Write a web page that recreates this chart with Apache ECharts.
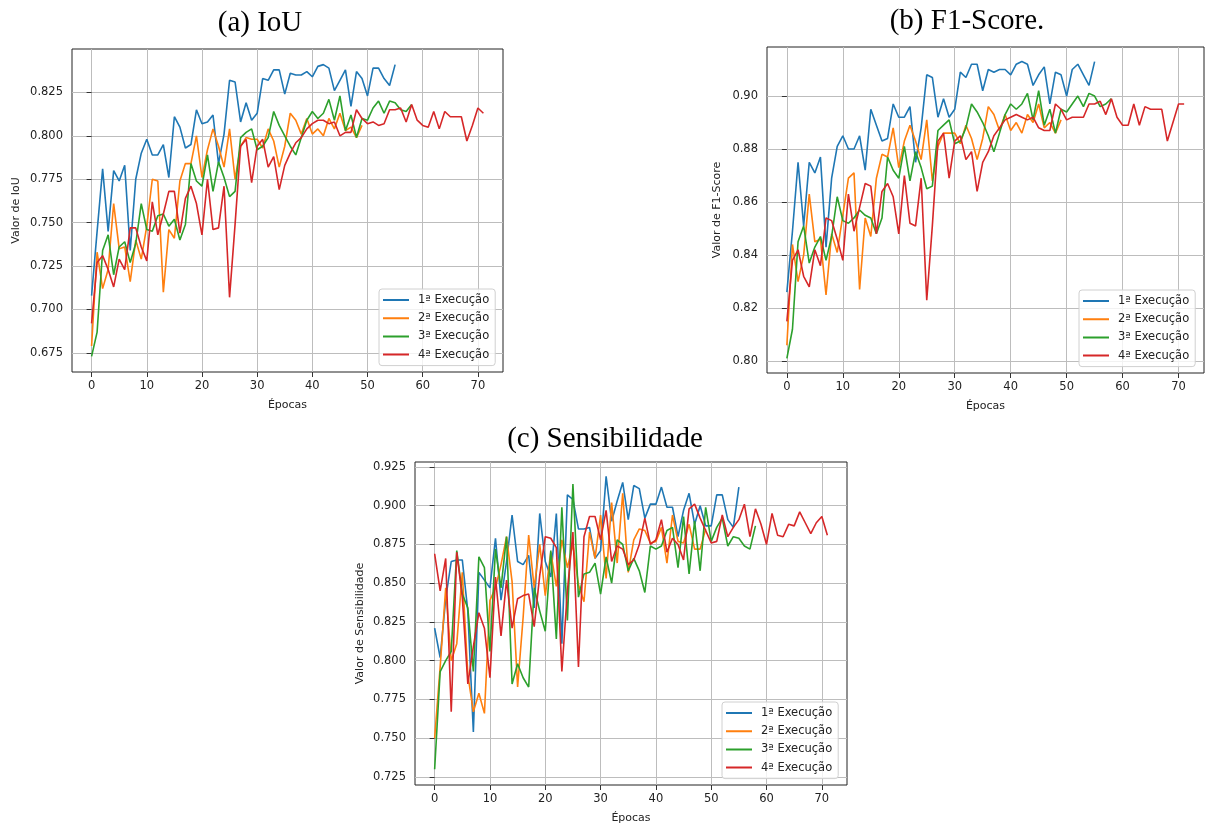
<!DOCTYPE html>
<html>
<head>
<meta charset="utf-8">
<script src="https://cdn.jsdelivr.net/npm/echarts@6.0.0/dist/echarts.min.js"></script>
<style>
  html, body { margin: 0; padding: 0; background: #fff; }
  #main { width: 1206px; height: 825px; }
</style>
</head>
<body>
<div id="main"></div>
<script>
// nomes das séries e ticks
const runNames = ['1ª Execução', '2ª Execução', '3ª Execução', '4ª Execução']
const runColors = ['#1f77b4', '#ff7f0e', '#2ca02c', '#d62728']
const epochTicks = [0, 10, 20, 30, 40, 50, 60, 70]
const iouTicks = [0.675, 0.700, 0.725, 0.750, 0.775, 0.800, 0.825]
const f1Ticks = [0.80, 0.82, 0.84, 0.86, 0.88, 0.90]
const sensTicks = [0.725, 0.750, 0.775, 0.800, 0.825, 0.850, 0.875, 0.900, 0.925]

// (a) IoU
const iouRun1 = [0.708, 0.745, 0.781, 0.745, 0.780, 0.774, 0.783, 0.734, 0.775, 0.790,
  0.798, 0.789, 0.789, 0.795, 0.776, 0.811, 0.805, 0.793, 0.795, 0.815,
  0.807, 0.808, 0.812, 0.784, 0.801, 0.832, 0.831, 0.808, 0.819, 0.809,
  0.813, 0.833, 0.832, 0.838, 0.838, 0.824, 0.836, 0.835, 0.835, 0.837,
  0.834, 0.840, 0.841, 0.839, 0.826, 0.832, 0.838, 0.817, 0.837, 0.833,
  0.823, 0.839, 0.839, 0.833, 0.829, 0.841]
const iouRun2 = [0.679, 0.733, 0.712, 0.723, 0.761, 0.735, 0.736, 0.716, 0.740, 0.729,
  0.748, 0.775, 0.774, 0.710, 0.746, 0.741, 0.774, 0.784, 0.784, 0.800,
  0.776, 0.792, 0.804, 0.794, 0.782, 0.804, 0.775, 0.794, 0.799, 0.798,
  0.798, 0.793, 0.804, 0.797, 0.782, 0.794, 0.813, 0.809, 0.801, 0.810,
  0.801, 0.804, 0.800, 0.810, 0.804, 0.813, 0.803, 0.805, 0.799, 0.806]
const iouRun3 = [0.673, 0.687, 0.734, 0.743, 0.720, 0.736, 0.739, 0.727, 0.738, 0.761,
  0.746, 0.745, 0.754, 0.755, 0.748, 0.752, 0.740, 0.749, 0.784, 0.774,
  0.771, 0.789, 0.768, 0.785, 0.776, 0.765, 0.768, 0.799, 0.802, 0.804,
  0.792, 0.794, 0.799, 0.814, 0.806, 0.800, 0.794, 0.789, 0.799, 0.809,
  0.814, 0.810, 0.813, 0.821, 0.809, 0.823, 0.803, 0.812, 0.799, 0.810,
  0.809, 0.816, 0.820, 0.813, 0.820, 0.819, 0.815, 0.814, 0.818]
const iouRun4 = [0.692, 0.727, 0.731, 0.723, 0.713, 0.729, 0.723, 0.747, 0.747, 0.736,
  0.728, 0.762, 0.743, 0.755, 0.768, 0.768, 0.744, 0.764, 0.771, 0.761,
  0.743, 0.775, 0.746, 0.747, 0.771, 0.707, 0.749, 0.794, 0.798, 0.773,
  0.794, 0.798, 0.782, 0.788, 0.769, 0.783, 0.790, 0.796, 0.799, 0.804,
  0.807, 0.809, 0.809, 0.807, 0.808, 0.800, 0.802, 0.802, 0.815, 0.810,
  0.807, 0.808, 0.806, 0.807, 0.815, 0.815, 0.816, 0.808, 0.818, 0.809,
  0.806, 0.805, 0.814, 0.804, 0.814, 0.811, 0.811, 0.811, 0.797, 0.806,
  0.816, 0.813]

// (b) F1-Score
const f1Run1 = [0.826, 0.849, 0.875, 0.851, 0.875, 0.871, 0.877, 0.843, 0.869, 0.881,
  0.885, 0.880, 0.880, 0.885, 0.872, 0.895, 0.889, 0.883, 0.884, 0.897,
  0.892, 0.892, 0.896, 0.875, 0.888, 0.908, 0.907, 0.892, 0.899, 0.892,
  0.895, 0.909, 0.907, 0.912, 0.912, 0.902, 0.910, 0.909, 0.910, 0.910,
  0.908, 0.912, 0.913, 0.912, 0.904, 0.908, 0.911, 0.897, 0.909, 0.908,
  0.900, 0.910, 0.912, 0.908, 0.904, 0.913]
const f1Run2 = [0.806, 0.844, 0.830, 0.840, 0.863, 0.845, 0.846, 0.825, 0.848, 0.841,
  0.855, 0.869, 0.871, 0.827, 0.854, 0.847, 0.869, 0.878, 0.877, 0.888,
  0.873, 0.883, 0.889, 0.883, 0.876, 0.891, 0.868, 0.881, 0.886, 0.886,
  0.886, 0.882, 0.889, 0.884, 0.876, 0.884, 0.896, 0.893, 0.887, 0.893,
  0.887, 0.890, 0.886, 0.893, 0.890, 0.897, 0.888, 0.890, 0.886, 0.891]
const f1Run3 = [0.801, 0.812, 0.845, 0.851, 0.837, 0.843, 0.847, 0.838, 0.847, 0.862,
  0.853, 0.852, 0.854, 0.857, 0.855, 0.854, 0.848, 0.854, 0.877, 0.872,
  0.869, 0.881, 0.868, 0.879, 0.873, 0.865, 0.866, 0.887, 0.889, 0.891,
  0.882, 0.883, 0.888, 0.897, 0.894, 0.890, 0.885, 0.879, 0.886, 0.893,
  0.897, 0.895, 0.897, 0.901, 0.891, 0.902, 0.889, 0.895, 0.886, 0.895,
  0.894, 0.897, 0.900, 0.896, 0.901, 0.900, 0.896, 0.897, 0.899]
const f1Run4 = [0.815, 0.838, 0.842, 0.832, 0.828, 0.842, 0.836, 0.854, 0.853, 0.846,
  0.838, 0.863, 0.849, 0.858, 0.867, 0.866, 0.848, 0.864, 0.867, 0.862,
  0.848, 0.870, 0.852, 0.851, 0.869, 0.823, 0.851, 0.883, 0.886, 0.869,
  0.883, 0.885, 0.876, 0.879, 0.864, 0.875, 0.879, 0.885, 0.888, 0.891,
  0.892, 0.893, 0.892, 0.891, 0.892, 0.888, 0.887, 0.887, 0.897, 0.895,
  0.891, 0.892, 0.892, 0.892, 0.897, 0.897, 0.898, 0.893, 0.899, 0.892,
  0.889, 0.889, 0.897, 0.889, 0.896, 0.895, 0.895, 0.895, 0.883, 0.890,
  0.897, 0.897]

// (c) Sensibilidade
const sensRun1 = [0.821, 0.802, 0.840, 0.864, 0.865, 0.865, 0.832, 0.754, 0.857, 0.852,
  0.847, 0.879, 0.839, 0.864, 0.894, 0.864, 0.862, 0.868, 0.834, 0.895,
  0.864, 0.854, 0.895, 0.811, 0.907, 0.904, 0.885, 0.885, 0.886, 0.866,
  0.871, 0.919, 0.890, 0.903, 0.915, 0.891, 0.913, 0.911, 0.892, 0.901,
  0.901, 0.912, 0.899, 0.899, 0.880, 0.897, 0.908, 0.888, 0.900, 0.887,
  0.887, 0.907, 0.907, 0.891, 0.886, 0.912]
const sensRun2 = [0.750, 0.796, 0.847, 0.800, 0.811, 0.857, 0.791, 0.767, 0.779, 0.766,
  0.839, 0.847, 0.862, 0.880, 0.851, 0.783, 0.828, 0.881, 0.847, 0.875,
  0.842, 0.870, 0.848, 0.878, 0.860, 0.875, 0.849, 0.838, 0.883, 0.866,
  0.894, 0.853, 0.902, 0.863, 0.908, 0.857, 0.878, 0.885, 0.884, 0.876,
  0.877, 0.886, 0.863, 0.894, 0.877, 0.876, 0.888, 0.872, 0.872, 0.885]
const sensRun3 = [0.730, 0.793, 0.800, 0.806, 0.871, 0.843, 0.834, 0.793, 0.867, 0.860,
  0.806, 0.872, 0.847, 0.880, 0.785, 0.798, 0.789, 0.783, 0.847, 0.832,
  0.819, 0.871, 0.814, 0.899, 0.826, 0.914, 0.841, 0.856, 0.857, 0.863,
  0.843, 0.867, 0.850, 0.878, 0.875, 0.858, 0.866, 0.858, 0.844, 0.874,
  0.872, 0.874, 0.884, 0.886, 0.860, 0.893, 0.856, 0.890, 0.858, 0.899,
  0.877, 0.886, 0.892, 0.874, 0.880, 0.879, 0.874, 0.872, 0.887]
const sensRun4 = [0.869, 0.845, 0.866, 0.767, 0.870, 0.841, 0.785, 0.809, 0.831, 0.821,
  0.789, 0.854, 0.816, 0.852, 0.821, 0.840, 0.842, 0.843, 0.822, 0.855,
  0.880, 0.879, 0.873, 0.793, 0.845, 0.883, 0.796, 0.880, 0.893, 0.893,
  0.878, 0.897, 0.864, 0.874, 0.872, 0.862, 0.865, 0.875, 0.892, 0.875,
  0.878, 0.891, 0.870, 0.879, 0.875, 0.865, 0.898, 0.901, 0.892, 0.884,
  0.876, 0.877, 0.894, 0.880, 0.886, 0.891, 0.901, 0.880, 0.898, 0.888,
  0.875, 0.895, 0.881, 0.880, 0.888, 0.887, 0.896, 0.889, 0.882, 0.889,
  0.893, 0.881]

const font = 'DejaVu Sans'
const serif = '"Liberation Serif", "Times New Roman", serif'
// linha simples no ícone da legenda (pontinhos invisíveis fixam a caixa 26x14)
const lineIcon = 'path://M0,0L0.01,0L0,0.01Z M0,6L26,6L26,8L0,8Z M26,14L25.99,14L26,13.99Z'

const panels = [
  { title: '(a) IoU', titleX: 255, titleY: 4, yName: 'Valor de IoU', yGap: 50,
    grid: { left: 72, top: 49, width: 431, height: 323 },
    yMin: 0.664, yMax: 0.850, yTicks: iouTicks, digits: 3,
    legend: { left: 379, top: 289 },
    runs: [iouRun1, iouRun2, iouRun3, iouRun4] },
  { title: '(b) F1-Score.', titleX: 962, titleY: 2, yName: 'Valor de F1-Score', yGap: 44,
    grid: { left: 767, top: 47, width: 437, height: 326 },
    yMin: 0.7955, yMax: 0.9185, yTicks: f1Ticks, digits: 2,
    legend: { left: 1079, top: 290 },
    runs: [f1Run1, f1Run2, f1Run3, f1Run4] },
  { title: '(c) Sensibilidade', titleX: 600, titleY: 420, yName: 'Valor de Sensibilidade', yGap: 49,
    grid: { left: 415, top: 462, width: 432, height: 323 },
    yMin: 0.7198, yMax: 0.9282, yTicks: sensTicks, digits: 3,
    legend: { left: 722, top: 702 },
    runs: [sensRun1, sensRun2, sensRun3, sensRun4] }
]

const tickColor = '#333'
const gridColor = '#bdbdbd'

const option = {
  animation: false,
  backgroundColor: '#fff',
  textStyle: { fontFamily: font },
  title: panels.map((p) => ({
    text: p.title,
    left: p.titleX,
    top: p.titleY,
    textAlign: 'center',
    textStyle: { fontFamily: serif, fontSize: 29, fontWeight: 'normal', color: '#000' }
  })),
  grid: panels.map((p) => ({
    ...p.grid,
    show: true,
    borderColor: '#222',
    borderWidth: 1,
    backgroundColor: 'transparent'
  })),
  legend: panels.map((p) => ({
    left: p.legend.left,
    top: p.legend.top,
    orient: 'vertical',
    data: runNames,
    icon: lineIcon,
    itemWidth: 26,
    itemHeight: 14,
    itemGap: 4.2,
    padding: [4, 6, 4, 4],
    borderColor: '#d0d0d0',
    borderWidth: 1,
    borderRadius: 3,
    backgroundColor: 'rgba(255,255,255,0.8)',
    selectedMode: false,
    textStyle: { fontFamily: font, fontSize: 11.5, color: '#222', padding: [0, 0, 0, 4] }
  })),
  xAxis: panels.map((p, i) => ({
    type: 'value',
    gridIndex: i,
    min: -3.55,
    max: 74.55,
    name: 'Épocas',
    nameLocation: 'middle',
    nameGap: 28,
    nameTextStyle: { fontFamily: font, fontSize: 11, color: '#222' },
    axisLine: { show: false },
    axisTick: { show: true, length: 5, customValues: epochTicks, lineStyle: { color: tickColor } },
    axisLabel: { margin: 8, customValues: epochTicks, fontFamily: font, fontSize: 11.5, color: '#222',
      showMinLabel: true, showMaxLabel: true },
    splitLine: { show: true, lineStyle: { color: gridColor, width: 1 } }
  })),
  yAxis: panels.map((p, i) => ({
    type: 'value',
    gridIndex: i,
    min: p.yMin,
    max: p.yMax,
    name: p.yName,
    nameLocation: 'middle',
    nameGap: p.yGap,
    nameTextStyle: { fontFamily: font, fontSize: 11, color: '#222' },
    axisLine: { show: false },
    axisTick: { show: true, length: 5, customValues: p.yTicks, lineStyle: { color: tickColor } },
    axisLabel: { margin: 9, customValues: p.yTicks, fontFamily: font, fontSize: 11.5, color: '#222',
      formatter: (v) => v.toFixed(p.digits) },
    splitLine: { show: true, lineStyle: { color: gridColor, width: 1 } }
  })),
  series: []
}

panels.forEach((p, gi) => {
  p.runs.forEach((vals, k) => {
    option.series.push({
      type: 'line',
      name: runNames[k],
      xAxisIndex: gi,
      yAxisIndex: gi,
      symbol: 'none',
      color: runColors[k],
      itemStyle: { color: runColors[k] },
      lineStyle: { width: 1.6, color: runColors[k] },
      data: vals.map((v, idx) => [idx, v])
    })
  })
})

const chart = echarts.init(document.getElementById('main'))
chart.setOption(option)
</script>
</body>
</html>
